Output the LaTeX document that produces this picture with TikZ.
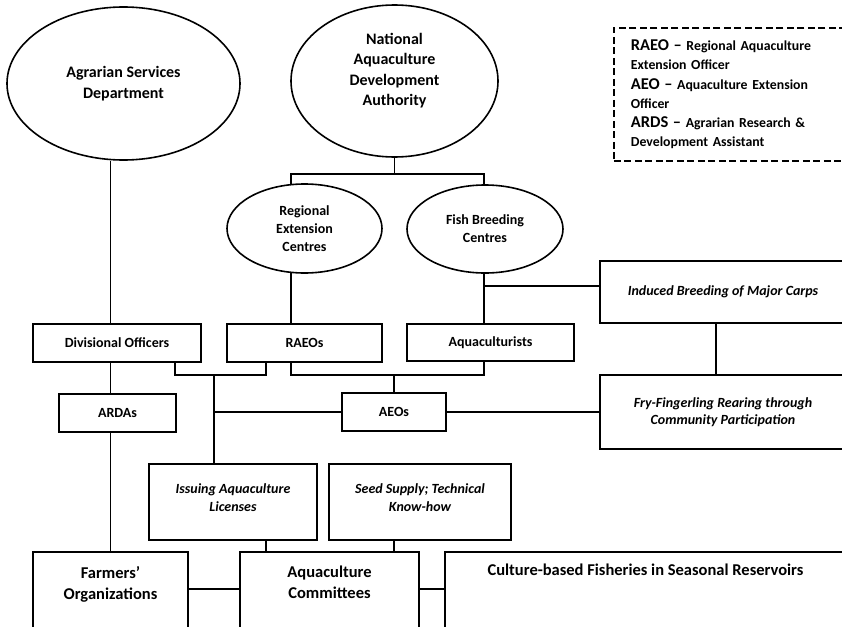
\documentclass[tikz,border=0pt]{standalone}
\usepackage{fontspec}
\setmainfont{Carlito}
\usetikzlibrary{shapes.geometric}
\newcommand{\legendterm}[1]{{\fontsize{16.5}{19.2}\selectfont #1 --}}
\tikzset{
  org line/.style={line width=1.9pt},
  org oval/.style={draw,ellipse,line width=1.6pt,inner sep=0pt,align=center,
    font=\bfseries\fontsize{14}{18}\selectfont},
  org head/.style={org oval,font=\bfseries\fontsize{16}{20.3}\selectfont},
  org box/.style={draw,rectangle,line width=1.9pt,inner sep=0pt,align=center,
    font=\bfseries\fontsize{14}{17.5}\selectfont},
  org task/.style={org box,font=\bfseries\itshape\fontsize{14}{17.5}\selectfont},
  org text/.style={inner sep=0pt,align=center,font=\bfseries\fontsize{14}{18}\selectfont},
  org big text/.style={inner sep=0pt,align=center,font=\bfseries\fontsize{16.5}{21}\selectfont},
  org key/.style={draw,line width=1.7pt,dash pattern=on 7pt off 3.5pt,anchor=north west,
    text width=210pt,inner xsep=17pt,minimum height=133pt,align=left,
    font=\bfseries\fontsize{13.8}{19.2}\selectfont}
}
\begin{document}
\begin{tikzpicture}[x=1pt,y=-1pt]
  \useasboundingbox (0,0) rectangle (842,626);
  \clip (0,0) rectangle (842,626);
  % column and row guides
  \coordinate (colA) at (291,0);  \coordinate (colB) at (484,0);
  \coordinate (colC) at (175,0);  \coordinate (colD) at (266,0);
  \coordinate (colE) at (214,0);  \coordinate (colF) at (394,0);
  \coordinate (colG) at (716,0);
  \coordinate (rowA) at (0,375);  \coordinate (rowB) at (0,589);
  \coordinate (indJ) at (484,286);

  % heads
  \node[org head,minimum width=233pt,minimum height=153pt] (ASD) at (123.5,83.5)
    {Agrarian Services\\Department};
  \node[org head,minimum width=207pt,minimum height=152pt] (NADA) at (394.5,81)
    {National\\Aquaculture\\Development\\Authority\\[3pt]};
  \node[org oval,minimum width=155pt,minimum height=89pt] (REC) at (304.5,228.5)
    {Regional\\Extension\\Centres};
  \node[org oval,minimum width=156pt,minimum height=88pt] (FBC) at (485,229)
    {Fish Breeding\\Centres};
  \node[org key] (Key) at (613,27)
    {\legendterm{RAEO} Regional Aquaculture\\Extension Officer\\
     \legendterm{AEO} Aquaculture Extension\\Officer\\
     \legendterm{ARDS} Agrarian Research \&\\Development Assistant};

  % officers
  \node[org box,minimum width=168pt,minimum height=38pt] (DivOff) at (117,343) {Divisional Officers};
  \node[org box,minimum width=155pt,minimum height=38pt] (RAEOs) at (304.5,343) {RAEOs};
  \node[org box,minimum width=167pt,minimum height=37pt] (Aqua) at (490.5,342.5) {Aquaculturists};
  \node[org box,minimum width=117pt,minimum height=38pt] (ARDAs) at (117.5,413) {ARDAs};
  \node[org box,minimum width=104pt,minimum height=38pt] (AEOs) at (394,412) {AEOs};
  \node[org task,minimum width=246pt,minimum height=62pt] (Ind) at (723,292)
    {Induced Breeding of Major Carps};
  \node[org task,minimum width=246pt,minimum height=74pt] (Fry) at (723,412)
    {Fry-Fingerling Rearing through\\Community Participation};

  % tasks and groups
  \node[org box,minimum width=168pt,minimum height=76pt,anchor=north] (Iss) at (233,463) {};
  \node[org box,minimum width=182pt,minimum height=76pt,anchor=north] (Seed) at (420,463) {};
  \node[org box,minimum width=155pt,minimum height=100pt,anchor=north] (Farm) at (110.5,551) {};
  \node[org box,minimum width=179pt,minimum height=100pt,anchor=north] (Comm) at (329.5,551) {};
  \node[org box,minimum width=401pt,minimum height=100pt,anchor=north] (Cult) at (645.5,551) {};
  \node[org text,font=\bfseries\itshape\fontsize{14}{18}\selectfont,anchor=north]
    (IssT) at ([yshift=-20pt]Iss.north) {Issuing Aquaculture\\Licenses};
  \node[org text,font=\bfseries\itshape\fontsize{14}{18}\selectfont,anchor=north]
    (SeedT) at ([yshift=-20pt]Seed.north) {Seed Supply; Technical\\Know-how};
  \node[org big text,anchor=north] (FarmT) at ([yshift=-15pt]Farm.north) {Farmers'\\Organizations};
  \node[org big text,anchor=north] (CommT) at ([yshift=-15pt]Comm.north) {Aquaculture\\Committees};
  \node[org big text,anchor=north] (CultT) at ([yshift=-13pt]Cult.north)
    {Culture-based Fisheries in Seasonal Reservoirs};

  % left spine
  \draw[org line] (ASD.south -| Farm.north) -- (DivOff.north -| Farm.north);
  \draw[org line] (DivOff.south -| Farm.north) -- (ARDAs.north -| Farm.north);
  \draw[org line] (ARDAs.south -| Farm.north) -- (Farm.north);
  % authority and centres
  \draw[org line] (NADA.south) -- ++(0,16) coordinate (nadaJ);
  \draw[org line] ([yshift=-1pt]REC.north -| colA) |- (nadaJ) -- (nadaJ -| colB)
    -- ([yshift=-1pt]FBC.north -| colB);
  \draw[org line] ([yshift=1pt]REC.south -| colA) -- (RAEOs.north -| colA);
  \draw[org line] ([yshift=1pt]FBC.south -| colB) -- (Aqua.north -| colB);
  \draw[org line] (indJ) -- (indJ -| Ind.west);
  \draw[org line] (Ind.south -| colG) -- (Fry.north -| colG);
  % brackets under officers
  \draw[org line] (DivOff.south -| colC) -- (colC |- rowA) -- (colD |- rowA) -- (RAEOs.south -| colD);
  \draw[org line] (RAEOs.south -| colA) -- (colA |- rowA) -- (colB |- rowA) -- (Aqua.south -| colB);
  \draw[org line] (colE |- rowA) -- (Iss.north -| colE);
  \draw[org line] (colE |- AEOs.west) -- (AEOs.west);
  \draw[org line] (AEOs.north |- rowA) -- (AEOs.north);
  \draw[org line] (AEOs.east) -- (AEOs.east -| Fry.west);
  % lower row
  \draw[org line] (Iss.south -| colD) -- (Comm.north -| colD);
  \draw[org line] (Seed.south -| colF) -- (Comm.north -| colF);
  \draw[org line] (Farm.east |- rowB) -- (Comm.west |- rowB);
  \draw[org line] (Comm.east |- rowB) -- (Cult.west |- rowB);
\end{tikzpicture}
\end{document}
